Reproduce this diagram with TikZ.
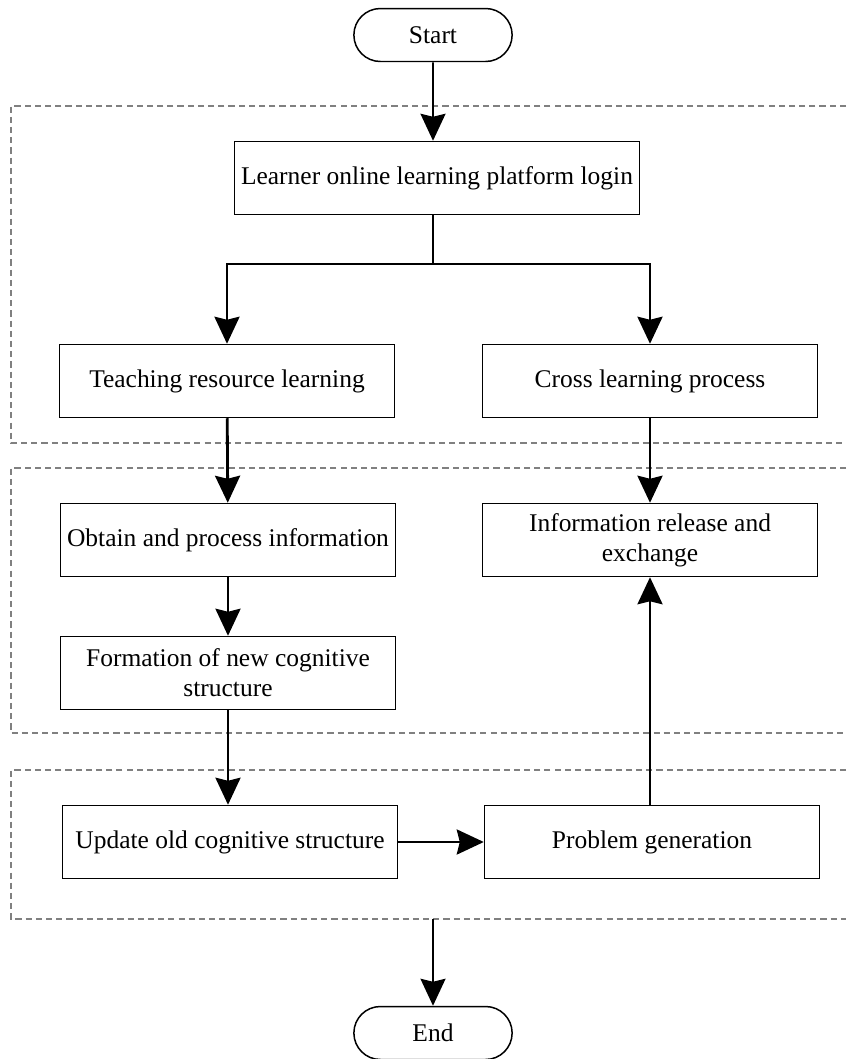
\documentclass[tikz,border=0pt]{standalone}
\usepackage{fontspec}
\setmainfont{Liberation Serif}
\usetikzlibrary{shapes.misc, arrows.meta}

\begin{document}
\begin{tikzpicture}[x=0.02cm, y=-0.02cm,
    >={Stealth[length=0.54cm, width=0.5cm, inset=0.06cm]},
    every node/.style={font=\fontsize{14.5}{17}\selectfont},
    box/.style={draw, line width=0.85pt, minimum width=6.7cm, minimum height=1.46cm,
      align=center, inner sep=2pt},
    term/.style={draw, rounded rectangle, line width=0.85pt, minimum width=3.4cm,
      minimum height=1.06cm},
    frame/.style={draw=gray, line width=0.6pt, dash pattern=on 3.5pt off 2.3pt},
    flow/.style={->, line width=1.6pt}]

  \useasboundingbox (0,0) rectangle (846,1059);

  % dashed stage frames, open on the right
  \draw[frame] (846,106) -- (11,106) -- (11,443) -- (846,443);
  \draw[frame] (846,468) -- (11,468) -- (11,733) -- (846,733);
  \draw[frame] (846,770) -- (11,770) -- (11,919) -- (846,919);

  \node[term] (start) at (433,35)   {Start};
  \node[term] (stop)  at (433,1033) {End};

  \node[box, minimum width=8.1cm] (login) at (437,178) {Learner online learning platform login};
  \node[box] (teach) at (227,381) {Teaching resource learning};
  \node[box] (cross) at (650,381) {Cross learning process};
  \node[box] (obtain) at (228,540) {Obtain and process information};
  \node[box] (release) at (650,540) {Information release and\\exchange};
  \node[box] (form) at (228,673) {Formation of new cognitive\\structure};
  \node[box] (update) at (230,842) {Update old cognitive structure};
  \node[box] (problem) at (652,842) {Problem generation};

  \coordinate (split) at (433,264);
  \coordinate (out) at (433,919);

  \draw[flow, line width=1.1pt] (start) -- (start |- login.north);
  \draw[line width=0.85pt] (start |- login.south) -- (split);
  \draw[flow] (split) -| (teach);
  \draw[flow] (split) -| (cross);
  \draw[flow] (teach) -- (obtain);
  \draw[flow] (cross) -- (release);
  \draw[flow] (obtain) -- (form);
  \draw[flow] (form) -- (form |- update.north);
  \draw[flow] (update) -- (problem);
  \draw[flow] (problem.north -| release) -- (release);
  \draw[flow, line width=1.1pt] (out) -- (stop);

\end{tikzpicture}
\end{document}
